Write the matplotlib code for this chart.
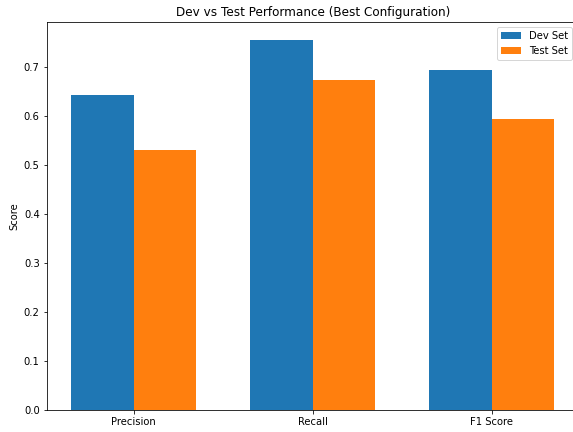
import matplotlib.pyplot as plt
import numpy as np

metrics = ['Precision', 'Recall', 'F1 Score']
dev_scores = [0.643, 0.754, 0.694]
test_scores = [0.530, 0.674, 0.594]

def plot_dev_vs_test(metrics, dev_scores, test_scores):
    x = np.arange(len(metrics))
    width = 0.35

    fig = plt.figure(figsize=(573 / 72, 432 / 72), dpi=72)
    # axes reaches slightly past the right edge, like the reference crop
    ax = fig.add_axes([46.7 / 573, 22 / 432, 531.9 / 573, 388 / 432])
    ax.bar(x - width / 2, dev_scores, width, label='Dev Set')
    ax.bar(x + width / 2, test_scores, width, label='Test Set')
    ax.set_ylabel('Score')
    ax.set_title('Dev vs Test Performance (Best Configuration)')
    ax.set_xticks(x)
    ax.set_xticklabels(metrics)
    ax.legend(loc='upper right', bbox_to_anchor=(0.997, 1.0))
    plt.savefig('out.png', dpi=72)

if __name__ == "__main__":
    plot_dev_vs_test(metrics, dev_scores, test_scores)
